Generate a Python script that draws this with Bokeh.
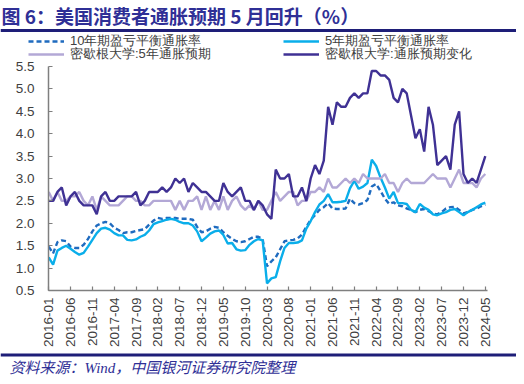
import math
import pandas as pd
from bokeh.plotting import figure
from bokeh.layouts import column
from bokeh.models import (ColumnDataSource, Range1d, FixedTicker, PrintfTickFormatter,
                          Legend, LegendItem, Label, BoxAnnotation)
from bokeh.embed import file_html
from bokeh.resources import INLINE

# ---------------- data ----------------
months = pd.date_range("2016-01-01", periods=101, freq="MS").strftime("%Y-%m").tolist()
tick_months = months[::5]
y_ticks = [0.5, 1.0, 1.5, 2.0, 2.5, 3.0, 3.5, 4.0, 4.5, 5.0, 5.5]

# 10年期盈亏平衡通胀率
be10 = [1.48, 1.33, 1.58, 1.62, 1.60, 1.48, 1.45, 1.45, 1.52, 1.65, 1.82, 1.95,
        2.00, 2.03, 2.00, 1.90, 1.85, 1.78, 1.80, 1.80, 1.83, 1.85, 1.87, 1.97,
        2.06, 2.12, 2.10, 2.12, 2.12, 2.12, 2.10, 2.10, 2.10, 2.08, 1.92, 1.80,
        1.82, 1.88, 1.92, 1.90, 1.80, 1.72, 1.65, 1.60, 1.58, 1.60, 1.65, 1.70,
        1.70, 1.65, 1.04, 1.15, 1.24, 1.42, 1.60, 1.62, 1.63, 1.66, 1.75, 1.92,
        2.08, 2.18, 2.30, 2.36, 2.45, 2.33, 2.32, 2.32, 2.33, 2.55, 2.45, 2.42,
        2.45, 2.52, 2.82, 2.88, 2.72, 2.55, 2.43, 2.47, 2.40, 2.38, 2.33, 2.30,
        2.25, 2.30, 2.32, 2.27, 2.22, 2.20, 2.25, 2.33, 2.36, 2.37, 2.30, 2.22,
        2.25, 2.30, 2.33, 2.38, 2.42]

# 5年期盈亏平衡通胀率
be5 = [1.24, 1.08, 1.39, 1.45, 1.50, 1.43, 1.36, 1.30, 1.34, 1.48, 1.63, 1.78,
       1.88, 1.90, 1.86, 1.78, 1.73, 1.73, 1.63, 1.62, 1.64, 1.70, 1.74, 1.84,
       1.98, 2.02, 2.05, 2.08, 2.10, 2.08, 2.03, 2.00, 2.00, 1.95, 1.82, 1.60,
       1.68, 1.77, 1.82, 1.84, 1.74, 1.55, 1.56, 1.42, 1.39, 1.40, 1.52, 1.60,
       1.65, 1.62, 0.66, 0.77, 0.80, 1.15, 1.45, 1.56, 1.56, 1.57, 1.62, 1.88,
       2.05, 2.25, 2.42, 2.50, 2.65, 2.47, 2.47, 2.48, 2.50, 2.78, 2.95, 2.77,
       2.82, 2.90, 3.42, 3.28, 3.02, 2.80, 2.55, 2.70, 2.45, 2.45, 2.43, 2.30,
       2.25, 2.43, 2.35, 2.30, 2.20, 2.18, 2.22, 2.25, 2.30, 2.32, 2.25, 2.18,
       2.25, 2.30, 2.36, 2.42, 2.46]

# 密歇根大学:5年通胀预期
um5 = [2.7, 2.5, 2.7, 2.5, 2.5, 2.6, 2.6, 2.7, 2.5, 2.4, 2.6, 2.3,
       2.6, 2.5, 2.4, 2.4, 2.4, 2.5, 2.6, 2.6, 2.5, 2.5, 2.4, 2.4,
       2.5, 2.5, 2.5, 2.5, 2.5, 2.3, 2.5, 2.3, 2.5, 2.5, 2.6, 2.3,
       2.6, 2.3, 2.5, 2.3, 2.6, 2.3, 2.5, 2.6, 2.4, 2.3, 2.4, 2.3,
       2.5, 2.3, 2.3, 2.5, 2.7, 2.5, 2.6, 2.7, 2.7, 2.4, 2.5, 2.5,
       2.7, 2.7, 2.8, 2.7, 3.0, 2.8, 2.8, 2.9, 3.0, 2.9, 3.0, 2.9,
       3.1, 3.0, 3.0, 3.0, 3.0, 3.1, 2.9, 2.9, 2.7, 2.9, 3.0, 2.9,
       2.9, 2.9, 2.9, 3.0, 3.1, 3.0, 3.0, 3.0, 2.8, 3.0, 3.2, 2.9,
       2.9, 2.9, 2.8, 3.0, 3.1]

# 密歇根大学:通胀预期变化
um1 = [2.5, 2.5, 2.7, 2.8, 2.4, 2.6, 2.7, 2.5, 2.4, 2.4, 2.4, 2.2,
       2.6, 2.7, 2.5, 2.5, 2.6, 2.6, 2.6, 2.6, 2.7, 2.4, 2.5, 2.7,
       2.7, 2.7, 2.8, 2.7, 2.8, 3.0, 2.9, 3.0, 2.7, 2.9, 2.8, 2.7,
       2.7, 2.6, 2.5, 2.5, 2.9, 2.7, 2.6, 2.7, 2.8, 2.5, 2.5, 2.3,
       2.5, 2.4, 2.2, 2.1, 3.2, 3.0, 3.0, 3.1, 2.6, 2.6, 2.8, 2.5,
       3.0, 3.3, 3.1, 3.4, 4.6, 4.2, 4.7, 4.6, 4.6, 4.8, 4.9, 4.8,
       4.9, 4.9, 5.4, 5.4, 5.3, 5.3, 5.2, 4.8, 4.7, 5.0, 4.9, 4.4,
       3.9, 4.1, 3.6, 4.6, 4.2, 3.3, 3.4, 3.5, 3.2, 4.2, 4.5, 3.1,
       2.9, 3.0, 2.9, 3.2, 3.5]

series_names = ["10年期盈亏平衡通胀率", "5年期盈亏平衡通胀率",
                "密歇根大学:5年通胀预期", "密歇根大学:通胀预期变化"]
title_text = "图 6：美国消费者通胀预期 5 月回升（%）"
source_text = "资料来源：Wind，中国银河证券研究院整理"

# ---------------- styles ----------------
W = 516
HH, MH, FH_ = 60, 290, 26          # header / main / footer heights
NAVY = "#2F2F96"
RULE = "#1E1E78"
AX = "#7F7F7F"
LBL = "#404040"
styles = [dict(line_color="#1F6BBF", line_width=2.4, line_dash="5 3"),
          dict(line_color="#0AAEEA", line_width=2.4),
          dict(line_color="#B3A8D6", line_width=2.4),
          dict(line_color="#3F3194", line_width=2.4)]
cols = ["be10", "be5", "um5", "um1"]

src = ColumnDataSource(dict(x=list(range(len(months))), month=months,
                            be10=be10, be5=be5, um5=um5, um1=um1))

# ---------------- main chart ----------------
MB_L, MB_R, MB_T, MB_B = 48, 29, 6, 60
p = figure(width=W, height=MH, output_backend="svg", toolbar_location=None,
           x_range=Range1d(-0.05, 100.5), y_range=Range1d(0.5, 5.5),
           min_border_left=MB_L, min_border_right=MB_R, min_border_top=MB_T,
           min_border_bottom=MB_B, background_fill_color="white",
           border_fill_color="white")
p.frame_align = False
p.outline_line_color = None
p.xgrid.visible = False
p.ygrid.visible = False

renderers = [p.line("x", c, source=src, **s) for c, s in zip(cols, styles)]

p.xaxis.ticker = FixedTicker(ticks=list(range(0, len(months), 5)))
p.xaxis.major_label_overrides = {i * 5: t for i, t in enumerate(tick_months)}
p.xaxis.major_label_orientation = math.pi / 2
p.xaxis.major_label_standoff = 7
p.yaxis.ticker = FixedTicker(ticks=y_ticks)
p.yaxis.formatter = PrintfTickFormatter(format="%.1f")
p.yaxis.major_label_standoff = 14
for ax in (p.xaxis[0], p.yaxis[0]):
    ax.axis_line_color = AX
    ax.axis_line_width = 1.5
    ax.major_tick_line_color = AX
    ax.major_tick_line_width = 1.2
    ax.major_tick_in = 4
    ax.major_tick_out = 0
    ax.minor_tick_line_color = None
    ax.major_label_text_font = "Liberation Sans"
    ax.major_label_text_font_size = "13.5px"
    ax.major_label_text_color = LBL

# ---------------- header (title, rule, legend) ----------------
# y range lies above every data value, so the key lines are never drawn in the header
h = figure(width=W, height=HH, output_backend="svg", toolbar_location=None,
           x_range=Range1d(0, W), y_range=Range1d(100, 100 + HH),
           x_axis_type=None, y_axis_type=None, min_border=0,
           background_fill_color="white", border_fill_color="white")
h.frame_align = False
h.outline_line_color = None

h.add_layout(Label(x=1, y=HH - 1, x_units="screen", y_units="screen",
                   text=title_text, text_font="Noto Sans CJK SC",
                   text_font_style="bold", text_font_size="19px",
                   text_color=NAVY, text_baseline="top"))
h.add_layout(BoxAnnotation(left=0, right=W, top=HH - 28.5, bottom=HH - 31.5,
                           left_units="screen", right_units="screen",
                           top_units="screen", bottom_units="screen",
                           fill_color=RULE, fill_alpha=1, line_alpha=0))

keys = [h.line("x", c, source=src, **s) for c, s in zip(cols, styles)]

ITEM_H = 19  # measured height of one legend row


def mk_legend(idx, x, yc):
    lg = Legend(items=[LegendItem(label=series_names[idx], renderers=[keys[idx]])],
                location=(x, HH - yc - ITEM_H / 2), orientation="vertical")
    lg.glyph_width = 36
    lg.glyph_height = 14
    lg.label_height = 14
    lg.label_standoff = 6
    lg.spacing = 0
    lg.padding = 0
    lg.margin = 0
    lg.border_line_alpha = 0
    lg.background_fill_alpha = 0
    lg.label_text_font = "Liberation Sans"
    lg.label_text_font_size = "13px"
    lg.label_text_color = LBL
    return lg


h.add_layout(mk_legend(0, 28, 40))
h.add_layout(mk_legend(2, 28, 53))
h.add_layout(mk_legend(1, 283, 40))
h.add_layout(mk_legend(3, 283, 53))

# ---------------- footer (rule, source) ----------------
f = figure(width=W, height=FH_, output_backend="svg", toolbar_location=None,
           x_range=Range1d(0, W), y_range=Range1d(0, FH_),
           x_axis_type=None, y_axis_type=None, min_border=0,
           background_fill_color="white", border_fill_color="white")
f.frame_align = False
f.outline_line_color = None
f.add_layout(BoxAnnotation(left=0, right=W, top=FH_ - 3, bottom=FH_ - 6,
                           left_units="screen", right_units="screen",
                           top_units="screen", bottom_units="screen",
                           fill_color=RULE, fill_alpha=1, line_alpha=0))
f.add_layout(Label(x=9, y=FH_ - 9, x_units="screen", y_units="screen",
                   text=source_text,
                   text_font="'Liberation Serif', 'Noto Sans CJK SC'",
                   text_font_style="italic", text_font_size="15px",
                   text_color=NAVY, text_baseline="top"))

layout = column(h, p, f, spacing=0)
open("out.html", "w").write(file_html(layout, INLINE))
